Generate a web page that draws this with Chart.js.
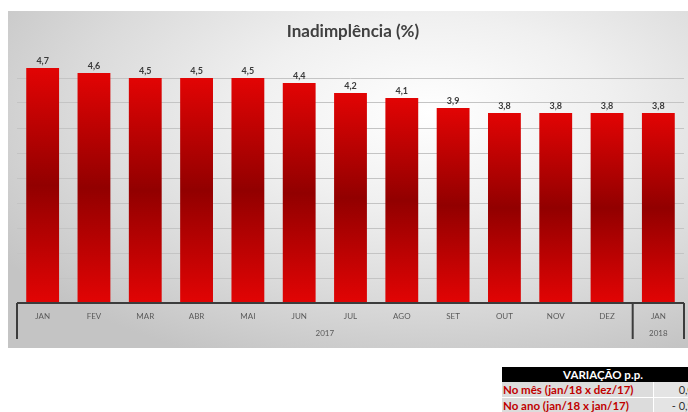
<!DOCTYPE html>
<html>
<head>
<meta charset="utf-8">
<script src="https://cdn.jsdelivr.net/npm/chart.js@4"></script>
<style>
  html, body { margin:0; padding:0; background:#fff; width:688px; height:412px; overflow:hidden; position:relative; }
  #panel {
    position:absolute; left:8px; top:11px; width:680px; height:337px;
    background: radial-gradient(ellipse 75% 80% at 62% 30%, #ffffff 0%, #f0f0f0 35%, #dadada 70%, #c4c4c4 100%);
  }
  #panel canvas { display:block; }
  #var-table {
    position:absolute; left:502px; top:367px; width:202px;
    font-family:'Lato', 'Open Sans', sans-serif; font-size:11.5px; font-weight:bold;
  }
  .vt-head { background:#000; color:#fff; height:15px; line-height:15px; text-align:center; }
  .vt-row  { display:flex; height:15px; line-height:15px; }
  .vt-lbl  { background:#dcdcdc; color:#c00000; width:150px; padding-left:1px; }
  .vt-val  { background:#e4e4e4; color:#303030; font-weight:normal; font-size:11px; flex:1; text-align:right; padding-right:10px; border-left:1px solid #fff; }
  .vt-row + .vt-row { border-top:1px solid #fff; }
</style>
</head>
<body>
<div id="panel"><canvas id="inad-chart" width="680" height="337"></canvas></div>

<div id="var-table">
  <div class="vt-head">VARIAÇÃO p.p.</div>
  <div class="vt-row"><div class="vt-lbl">No mês (jan/18 x dez/17)</div><div class="vt-val" id="vt-mes"></div></div>
  <div class="vt-row"><div class="vt-lbl">No ano (jan/18 x jan/17)</div><div class="vt-val" id="vt-ano"></div></div>
</div>

<script>
// ─── Data ─────────────────────────────────────────────────────
const months    = ['JAN','FEV','MAR','ABR','MAI','JUN','JUL','AGO','SET','OUT','NOV','DEZ','JAN'];
const years     = ['2017', '2018'];
const yearSpans = [12, 1];               // how many months each year covers
const inad      = [4.7, 4.6, 4.5, 4.5, 4.5, 4.4, 4.2, 4.1, 3.9, 3.8, 3.8, 3.8, 3.8];
const yMin = 0, yMax = 5, yStep = 0.5;

const title = 'Inadimplência (%)';
const fmt   = v => v.toFixed(1).replace('.', ',');

// variation table (p.p.)
const last = inad.length - 1;
document.getElementById('vt-mes').textContent = fmt(inad[last] - inad[last - 1]);
document.getElementById('vt-ano').textContent = '- ' + fmt(Math.abs(inad[last] - inad[0]));

// ── Bar fill: bright red at the ends, dark in the middle ──────
function barFill(ctx) {
  const chart = ctx.chart;
  if (!chart.chartArea || !ctx.parsed) return '#c00000';
  const y   = chart.scales.y;
  const top = y.getPixelForValue(ctx.parsed.y);
  const bot = y.getPixelForValue(0);
  const g   = chart.ctx.createLinearGradient(0, top, 0, bot);
  g.addColorStop(0,    '#e20404');
  g.addColorStop(0.5,  '#920000');
  g.addColorStop(1,    '#e20404');
  return g;
}

// ── Custom drawing: title, value labels, two-level category axis ──
const decorPlugin = {
  id: 'decor',
  afterDatasetsDraw(chart) {
    const { ctx, chartArea: a, scales: { x } } = chart;
    const meta = chart.getDatasetMeta(0);

    ctx.save();
    // title
    ctx.fillStyle = '#404040';
    ctx.font = 'bold 17px Lato, "Open Sans", sans-serif';
    ctx.textAlign = 'center';
    ctx.textBaseline = 'middle';
    ctx.fillText(title, 345, 21);

    // value labels above bars
    ctx.font = 'bold 9px Lato, "Open Sans", sans-serif';
    ctx.fillStyle = '#3a3a3a';
    ctx.textBaseline = 'bottom';
    meta.data.forEach((bar, i) => ctx.fillText(fmt(inad[i]), bar.x, bar.y - 2));

    // axis line + group separators
    const half  = (x.getPixelForValue(1) - x.getPixelForValue(0)) / 2;
    const left  = x.getPixelForValue(0) - half;
    const right = x.getPixelForValue(months.length - 1) + half;
    const depth = 36;
    ctx.strokeStyle = '#3c3c3c';
    ctx.lineWidth = 2;
    ctx.beginPath();
    ctx.moveTo(left, a.bottom);
    ctx.lineTo(right, a.bottom);
    let idx = 0;
    const seps = [left];
    yearSpans.forEach(n => { idx += n; seps.push(x.getPixelForValue(idx - 1) + half); });
    seps.forEach(px => { ctx.moveTo(px, a.bottom); ctx.lineTo(px, a.bottom + depth); });
    ctx.stroke();

    // month labels
    ctx.fillStyle = '#5a5a5a';
    ctx.font = '8px Lato, "Open Sans", sans-serif';
    ctx.textBaseline = 'middle';
    months.forEach((m, i) => ctx.fillText(m, x.getPixelForValue(i), a.bottom + 13));

    // year labels centred under their months
    idx = 0;
    years.forEach((yr, k) => {
      const first = idx, lastI = idx + yearSpans[k] - 1;
      const cx = (x.getPixelForValue(first) + x.getPixelForValue(lastI)) / 2;
      ctx.fillText(yr, cx, a.bottom + 30);
      idx += yearSpans[k];
    });
    ctx.restore();
  }
};

new Chart(document.getElementById('inad-chart'), {
  type: 'bar',
  data: {
    labels: months,
    datasets: [{
      data: inad,
      backgroundColor: barFill,
      borderWidth: 0,
      barPercentage: 0.64,
      categoryPercentage: 1,
    }],
  },
  options: {
    responsive: false,
    animation: false,
    layout: { padding: { left: 9, right: 4, top: 42, bottom: 45 } },
    plugins: { legend: { display: false }, title: { display: false }, tooltip: { enabled: false } },
    scales: {
      x: { display: false },
      y: {
        min: yMin, max: yMax,
        ticks: { display: false, stepSize: yStep },
        border: { display: false },
        grid: {
          drawTicks: false,
          lineWidth: 1,
          color: c => (c.tick && (c.tick.value === yMax || c.tick.value === yMin)) ? 'rgba(0,0,0,0)' : '#c4c4c4',
        },
      },
    },
  },
  plugins: [decorPlugin],
});
</script>
</body>
</html>
